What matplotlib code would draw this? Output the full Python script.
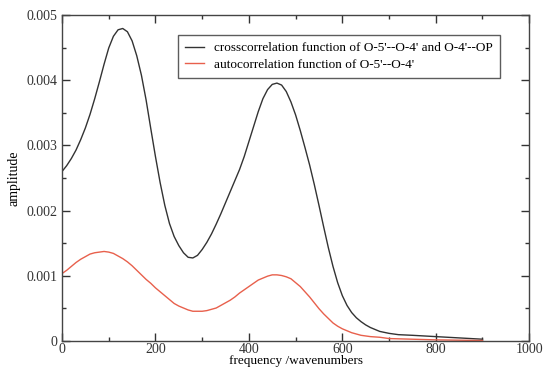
import matplotlib
matplotlib.use("Agg")
import matplotlib.pyplot as plt
from matplotlib.ticker import MultipleLocator

# crosscorrelation curve
cross_x = [0, 10, 20, 30, 40, 50, 60, 70, 80, 90, 100, 110, 120, 130, 140, 150,
           160, 170, 180, 190, 200, 210, 220, 230, 240, 250, 260, 270, 280, 290,
           300, 310, 320, 330, 340, 350, 360, 370, 380, 390, 400, 410, 420, 430,
           440, 450, 460, 470, 480, 490, 500, 510, 520, 530, 540, 550, 560, 570,
           580, 590, 600, 610, 620, 630, 640, 650, 660, 680, 700, 720, 750, 800,
           850, 900]
cross_y = [0.00260, 0.00269, 0.00280, 0.00293, 0.00309, 0.00327, 0.00348, 0.00372,
           0.00398, 0.00425, 0.00450, 0.00468, 0.00478, 0.00480, 0.00475, 0.00461,
           0.00438, 0.00408, 0.00370, 0.00326, 0.00283, 0.00243, 0.00208, 0.00180,
           0.00160, 0.00146, 0.00135, 0.00128, 0.00127, 0.00131, 0.00140, 0.00151,
           0.00164, 0.00179, 0.00195, 0.00212, 0.00229, 0.00246, 0.00263, 0.00283,
           0.00306, 0.00329, 0.00352, 0.00372, 0.00386, 0.00394, 0.00396, 0.00393,
           0.00383, 0.00367, 0.00347, 0.00323, 0.00297, 0.00270, 0.00240, 0.00208,
           0.00175, 0.00143, 0.00114, 0.00089, 0.00069, 0.00054, 0.00043, 0.00035,
           0.00029, 0.00024, 0.00020, 0.00014, 0.00011, 0.00009, 0.00008, 0.00006,
           0.00004, 0.00002]

# autocorrelation curve
auto_x = [0, 10, 20, 30, 40, 50, 60, 70, 80, 90, 100, 110, 120, 130, 140, 150,
          160, 170, 180, 190, 200, 210, 220, 230, 240, 250, 260, 270, 280, 290,
          300, 310, 320, 330, 340, 350, 360, 370, 380, 390, 400, 410, 420, 430,
          440, 450, 460, 470, 480, 490, 500, 510, 520, 530, 540, 550, 560, 570,
          580, 590, 600, 610, 620, 630, 640, 660, 680, 700, 750, 800, 900]
auto_y = [0.00103, 0.00108, 0.00114, 0.00120, 0.00125, 0.00129, 0.00133, 0.00135,
          0.00136, 0.00137, 0.00136, 0.00134, 0.00130, 0.00126, 0.00121, 0.00115,
          0.00108, 0.00101, 0.00094, 0.00088, 0.00081, 0.00075, 0.00069, 0.00063,
          0.00057, 0.00053, 0.00050, 0.00047, 0.00045, 0.00045, 0.00045, 0.00046,
          0.00048, 0.00050, 0.00054, 0.00058, 0.00062, 0.00067, 0.00073, 0.00078,
          0.00083, 0.00088, 0.00093, 0.00096, 0.00099, 0.00101, 0.00101, 0.00100,
          0.00098, 0.00095, 0.00089, 0.00083, 0.00075, 0.00067, 0.00058, 0.00049,
          0.00041, 0.00034, 0.00027, 0.00022, 0.00018, 0.00015, 0.00012, 0.00010,
          0.00008, 0.00006, 0.00005, 0.00003, 0.00002, 0.00001, 0.0]

cross_label = "crosscorrelation function of O-5'--O-4' and O-4'--OP"
auto_label = "autocorrelation function of O-5'--O-4'"

plt.rcParams['font.family'] = ['Liberation Serif', 'DejaVu Serif']

fig = plt.figure(figsize=(5.43, 3.68), dpi=100)
ax = fig.add_axes([0.1142, 0.0747, 0.8604, 0.8832])

ax.plot(cross_x, cross_y, color='#333333', lw=1.0, label=cross_label)
ax.plot(auto_x, auto_y, color='#e8604c', lw=1.0, label=auto_label)

ax.set_xlim(0, 1000)
ax.set_ylim(0, 0.005)
ax.xaxis.set_major_locator(MultipleLocator(200))
ax.xaxis.set_minor_locator(MultipleLocator(100))
ax.yaxis.set_minor_locator(MultipleLocator(0.0005))
ax.set_yticks([0, 0.001, 0.002, 0.003, 0.004, 0.005])
ax.set_yticklabels(['0', '0.001', '0.002', '0.003', '0.004', '0.005'])

ax.tick_params(which='both', direction='in', top=True, right=True,
               labelsize=10, colors='#333333', width=1)
ax.tick_params(which='major', length=6)
ax.tick_params(which='minor', length=3)
ax.tick_params(axis='x', pad=1.5)
for s in ax.spines.values():
    s.set_color('#444444')
    s.set_linewidth(1.0)

ax.set_xlabel('frequency /wavenumbers', fontsize=9.5)
ax.xaxis.set_label_coords(0.5, -0.044)
ax.set_ylabel('amplitude', fontsize=10, labelpad=4)

leg = ax.legend(loc='upper left', bbox_to_anchor=(0.248, 0.94), fontsize=9.5,
                frameon=True, fancybox=False, handlelength=1.45,
                borderpad=0.55, labelspacing=0.3, handletextpad=0.75,
                borderaxespad=0)
leg.get_frame().set_edgecolor('#333333')
leg.get_frame().set_linewidth(1.0)

fig.savefig('out.png', dpi=100)
